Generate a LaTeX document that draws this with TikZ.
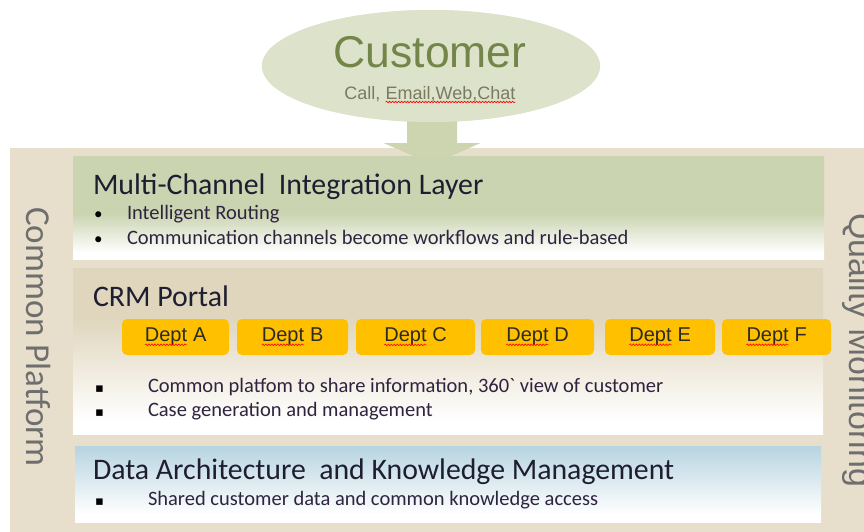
\documentclass[tikz,border=0pt]{standalone}
\usepackage{fontspec}
\setmainfont{Carlito}
\newfontfamily\rawf{Carlito}[Ligatures=TeXOff]
\newfontfamily\arialf{Liberation Sans}
\newfontfamily\symf{DejaVu Sans}
\usetikzlibrary{shapes.geometric,decorations.pathmorphing,calc}
\definecolor{platc}{HTML}{E7DFCC}
\definecolor{ellc}{HTML}{DDE3CB}
\definecolor{arrc}{HTML}{CCD5B0}
\definecolor{lonec}{HTML}{CBD4B1}
\definecolor{ltwoc}{HTML}{E0D6BD}
\definecolor{lthreec}{HTML}{B7D4E1}
\definecolor{deptc}{HTML}{FFC000}
\definecolor{custc}{HTML}{738548}
\definecolor{subc}{HTML}{7A7A5E}
\definecolor{sidec}{HTML}{6E6E6E}
\definecolor{titlec}{HTML}{1E1E30}
\definecolor{bulc}{HTML}{2E2440}
\pgfdeclareverticalshading{shlone}{100bp}{color(0bp)=(white); color(28bp)=(white); color(47bp)=(lonec); color(100bp)=(lonec)}
\pgfdeclareverticalshading{shltwo}{100bp}{color(0bp)=(white); color(29bp)=(white); color(60bp)=(ltwoc); color(100bp)=(ltwoc)}
\pgfdeclareverticalshading{shlthree}{100bp}{color(0bp)=(white); color(30bp)=(white); color(75bp)=(lthreec); color(100bp)=(lthreec)}
\tikzset{
  wvreset/.style={shape=rectangle,fill=none,draw=none,minimum width=0pt,minimum height=0pt,rounded corners=0pt,inner sep=0pt,outer sep=0pt},
  wvline/.style={draw=red,fill=none,rounded corners=0pt,line width=0.6pt,decorate,decoration={snake,amplitude=0.8pt,segment length=3pt}},
  txt/.style={anchor=base west,inner sep=0pt,outer sep=0pt},
  titletxt/.style={txt,text=titlec,font=\fontsize{29.8}{34}\selectfont},
  bultxt/.style={txt,text=bulc,font=\fontsize{20.5}{24}\selectfont},
  sqbul/.style={txt,text=black,font=\symf\fontsize{13}{15}\selectfont},
  dotbul/.style={txt,text=black,font=\fontsize{17}{20}\selectfont},
  dept/.style={fill=deptc,rounded corners=5pt,minimum height=36pt,inner sep=0pt,text=black!90!olive,font=\arialf\fontsize{20}{24}\selectfont},
  sidetxt/.style={txt,rotate=-90,text=sidec}
}
\newcommand\wavy[1]{\tikz[baseline=0pt]{\node[wvreset,anchor=base west](wvtmp) at (0pt,0pt){#1};\path[wvline] ([yshift=-3pt]wvtmp.base west) -- ([yshift=-3pt]wvtmp.base east);}}
\begin{document}
\begin{tikzpicture}[x=1pt,y=-1pt]
\useasboundingbox (0,0) rectangle (864,531);
\clip (0,0) rectangle (864,531);
% platform
\fill[platc] (10,148) rectangle (900,560);
% customer ellipse and arrow
\node[ellipse,fill=ellc,minimum width=338pt,minimum height=112pt,inner sep=0pt] (cust) at (431,66) {};
\fill[arrc] ($(cust.south)+(-24,-12)$) -- ($(cust.south)+(-24,21)$) -- ($(cust.south)+(-47,21)$) -- ($(cust.south)+(1.5,42)$) -- ($(cust.south)+(49,21)$) -- ($(cust.south)+(26,21)$) -- ($(cust.south)+(26,-12)$) -- cycle;
\node[ellipse,fill=ellc,minimum width=338pt,minimum height=112pt,inner sep=0pt] at (cust.center) {};
\node[anchor=base,inner sep=0pt,text=custc,font=\arialf\fontsize{44.5}{50}\selectfont] (custt) at (430,67) {Customer};
\node[anchor=base,inner sep=0pt,text=subc,font=\arialf\fontsize{18}{22}\selectfont] (custs) at (430,99) {Call,\hspace{5pt}\wavy{Email,Web,Chat}};
% layers
\shade[shading=shlone] (73,156) rectangle (824,259);
\shade[shading=shltwo] (73,268) rectangle (823,434);
\shade[shading=shlthree] (75,446) rectangle (821,522);
% layer 1 text
\node[titletxt] (t1) at (93,194) {Multi-Channel\ \ Integration Layer};
\node[dotbul] (d1) at (94,219) {•};
\node[bultxt] (b1) at (127,219) {Intelligent Routing};
\node[dotbul] (d2) at (94,244) {•};
\node[bultxt] (b2) at (127,244) {Communication channels become workflows and rule-based};
% layer 2
\node[titletxt] (t2) at (93,306) {CRM Portal};
\node[dept,minimum width=107pt] (dA) at (175.5,337) {\wavy{Dept} A};
\node[dept,minimum width=111pt] (dB) at (292.5,337) {\wavy{Dept} B};
\node[dept,minimum width=119pt] (dC) at (415.5,337) {\wavy{Dept} C};
\node[dept,minimum width=113pt] (dD) at (537.5,337) {\wavy{Dept} D};
\node[dept,minimum width=110pt] (dE) at (660,337) {\wavy{Dept} E};
\node[dept,minimum width=109pt] (dF) at (776.5,337) {\wavy{Dept} F};
\node[sqbul] (s1) at (95,392) {▪};
\node[bultxt] (b3) at (148,392) {Common platfom to share information, 360{\rawf `} view of customer};
\node[sqbul] (s2) at (95,416) {▪};
\node[bultxt] (b4) at (148,416) {Case generation and management};
% layer 3
\node[titletxt] (t3) at (93,479) {Data Architecture\ \ and Knowledge Management};
\node[sqbul] (s3) at (95,505) {▪};
\node[bultxt] (b5) at (148,505) {Shared customer data and common knowledge access};
% side labels
\node[sidetxt,font=\fontsize{35}{40}\selectfont] (cp) at (27,207) {Common Platform};
\node[sidetxt,font=\arialf\fontsize{34}{38}\selectfont] (qm) at (849,213) {Quality Monitoring};
\end{tikzpicture}
\end{document}
